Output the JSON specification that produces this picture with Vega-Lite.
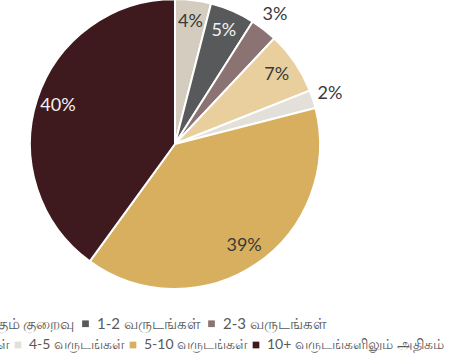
{
  "$schema": "https://vega.github.io/schema/vega-lite/v6.json",
  "width": 350,
  "height": 288,
  "autosize": "none",
  "padding": {"left": 0, "top": 0, "right": 110, "bottom": 75},
  "background": "white",
  "config": {"view": {"stroke": null}},
  "data": {
    "values": [
      {"cat": "1 வருடத்திற்கும் குறைவு", "share": 0.04, "rank": 1},
      {"cat": "1-2 வருடங்கள்", "share": 0.05, "rank": 2},
      {"cat": "2-3 வருடங்கள்", "share": 0.03, "rank": 3},
      {"cat": "3-4 வருடங்கள்", "share": 0.07, "rank": 4},
      {"cat": "4-5 வருடங்கள்", "share": 0.02, "rank": 5},
      {"cat": "5-10 வருடங்கள்", "share": 0.39, "rank": 6},
      {"cat": "10+ வருடங்களிலும்  அதிகம்", "share": 0.40, "rank": 7}
    ]
  },
  "layer": [
    {
      "mark": {"type": "arc", "outerRadius": 145, "stroke": "white", "strokeWidth": 2},
      "encoding": {
        "theta": {"field": "share", "type": "quantitative", "stack": true},
        "order": {"field": "rank", "type": "quantitative"},
        "fill": {
          "field": "cat",
          "type": "nominal",
          "scale": {
            "domain": ["1 வருடத்திற்கும் குறைவு", "1-2 வருடங்கள்", "2-3 வருடங்கள்", "3-4 வருடங்கள்", "4-5 வருடங்கள்", "5-10 வருடங்கள்", "10+ வருடங்களிலும்  அதிகம்"],
            "range": ["#D4CDBF", "#58595B", "#8B7273", "#E9CF9D", "#E3E0D9", "#D8AF5E", "#3E1A1F"]
          },
          "legend": {
            "values": ["1 வருடத்திற்கும் குறைவு", "1-2 வருடங்கள்", "2-3 வருடங்கள்"],
            "title": null,
            "orient": "none",
            "legendX": -109,
            "legendY": 316,
            "direction": "horizontal",
            "columns": 3,
            "symbolType": "square",
            "symbolSize": 45,
            "symbolStrokeWidth": 0,
            "labelFont": "Lato",
            "labelFontSize": 15,
            "labelColor": "#595959",
            "labelOffset": 4,
            "labelLimit": 0,
            "columnPadding": 3,
            "padding": 0
          }
        }
      }
    },
    {
      "mark": {"type": "text", "radius": 123, "font": "Lato", "fontSize": 18},
      "encoding": {
        "theta": {"field": "share", "type": "quantitative", "stack": true},
        "order": {"field": "rank", "type": "quantitative"},
        "text": {"field": "share", "type": "quantitative", "format": ".0%"},
        "opacity": {"condition": {"test": "datum.share < 0.035", "value": 0}, "value": 1},
        "color": {"condition": {"test": "datum.rank == 2 || datum.rank == 7", "value": "#F2F2F2"}, "value": "#3A3A3A"}
      }
    },
    {
      "mark": {"type": "text", "radius": 163, "font": "Lato", "fontSize": 18},
      "encoding": {
        "theta": {"field": "share", "type": "quantitative", "stack": true},
        "order": {"field": "rank", "type": "quantitative"},
        "text": {"field": "share", "type": "quantitative", "format": ".0%"},
        "opacity": {"condition": {"test": "datum.share < 0.035", "value": 1}, "value": 0},
        "color": {"value": "#3A3A3A"}
      }
    },
    {
      "transform": [{"filter": "datum.rank >= 4"}],
      "mark": {"type": "text", "text": ""},
      "encoding": {
        "color": {
          "field": "cat",
          "type": "nominal",
          "scale": {
            "domain": ["3-4 வருடங்கள்", "4-5 வருடங்கள்", "5-10 வருடங்கள்", "10+ வருடங்களிலும்  அதிகம்"],
            "range": ["#E9CF9D", "#E3E0D9", "#D8AF5E", "#3E1A1F"]
          },
          "legend": {
            "title": null,
            "orient": "none",
            "legendX": -104,
            "legendY": 338,
            "direction": "horizontal",
            "columns": 4,
            "symbolType": "square",
            "symbolSize": 45,
            "symbolStrokeWidth": 0,
            "labelFont": "Lato",
            "labelFontSize": 14,
            "labelColor": "#595959",
            "labelOffset": 4,
            "labelLimit": 0,
            "columnPadding": 0,
            "padding": 0
          }
        }
      }
    }
  ]
}
